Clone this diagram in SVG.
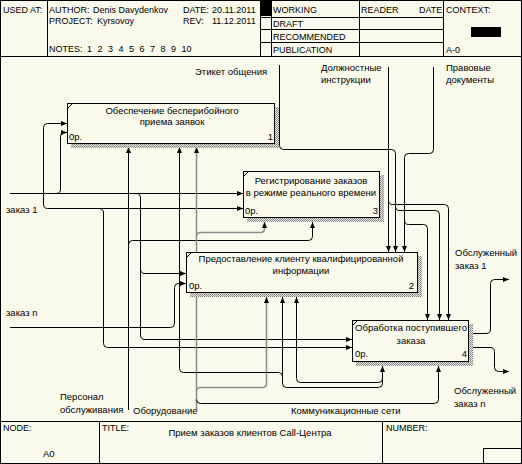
<svg xmlns="http://www.w3.org/2000/svg" width="522" height="464" viewBox="0 0 522 464">
<style>
text{font-family:"Liberation Sans",Arial,sans-serif;font-size:9.5px;fill:#000}
.h{font-size:9px}
.m{text-anchor:middle}
.e{text-anchor:end}
.fr{fill:none;stroke:#000;stroke-width:1}
.box{fill:#FAFAEC;stroke:#000;stroke-width:1}
.sh{fill:url(#hatch)}
.ln{fill:none;stroke:#000;stroke-width:1}
.lg{fill:none;stroke:#8c8c8c;stroke-width:1.5}
.ar{marker-end:url(#ah)}
</style>
<defs>
<pattern id="hatch" width="2" height="2" patternUnits="userSpaceOnUse">
<rect width="2" height="2" fill="#e8e8e0"/>
<rect width="1" height="1" fill="#7a7a7a"/>
<rect x="1" y="1" width="1" height="1" fill="#9a9a9a"/>
</pattern>
<marker id="ah" markerWidth="6" markerHeight="5" refX="6" refY="2.5" orient="auto" markerUnits="userSpaceOnUse">
<path d="M0,0 L6,2.5 L0,5 z" fill="#000"/>
</marker>
</defs>
<rect x="0.5" y="0.5" width="521" height="463" fill="#FAFAEC" stroke="#000"/>
<g id="header">
<path class="fr" d="M0,56.5 H522 M47.5,0 V56 M260.5,0 V56 M271.5,0 V56 M359.5,0 V56 M443.5,0 V56 M260,17.5 H443 M260,29.5 H443 M260,42.5 H443"/>
<rect x="261" y="1" width="10" height="15" fill="#000"/>
<rect x="471" y="27" width="30" height="10" fill="#000"/>
<text class="h" x="3" y="13">USED AT:</text>
<text class="h" x="49" y="13">AUTHOR:</text>
<text class="h" x="93" y="13">Denis Davydenkov</text>
<text class="h" x="183" y="13">DATE:</text>
<text class="h" x="212" y="13">20.11.2011</text>
<text class="h" x="49" y="24">PROJECT:</text>
<text class="h" x="97" y="24">Kyrsovoy</text>
<text class="h" x="183" y="24">REV:</text>
<text class="h" x="212" y="24">11.12.2011</text>
<text class="h" x="49" y="52">NOTES:</text>
<text class="h" x="87" y="52">1</text><text class="h" x="97.5" y="52">2</text><text class="h" x="108" y="52">3</text><text class="h" x="118.5" y="52">4</text><text class="h" x="129" y="52">5</text><text class="h" x="139.5" y="52">6</text><text class="h" x="150" y="52">7</text><text class="h" x="160.5" y="52">8</text><text class="h" x="171" y="52">9</text><text class="h" x="181.5" y="52">10</text>
<text class="h" x="273" y="13">WORKING</text>
<text class="h" x="273" y="27">DRAFT</text>
<text class="h" x="273" y="40">RECOMMENDED</text>
<text class="h" x="273" y="53">PUBLICATION</text>
<text class="h" x="361" y="13">READER</text>
<text class="h" x="419" y="13">DATE</text>
<text class="h" x="446" y="13">CONTEXT:</text>
<text class="h" x="446" y="53">A-0</text>
</g>
<g id="footer">
<path class="fr" d="M0,421.5 H522 M99.5,421 V464 M382.5,421 V464 M483.5,448 V464 M483,448.5 H522"/>
<text class="h" x="3" y="431">NODE:</text>
<text x="43" y="457">A0</text>
<text class="h" x="102" y="431">TITLE:</text>
<text x="250" y="436" class="m">Прием заказов клиентов Call-Центра</text>
<text class="h" x="386" y="431">NUMBER:</text>
</g>
<g id="connectors">
<path class="ln ar" d="M279.5,65 V145.5 Q279.5,149.5 283.5,149.5 H391.5 Q395.5,149.5 395.5,153.5 V252"/>
<path class="ln ar" d="M395.5,206 Q395.5,210.5 399.5,210.5 H435.5 Q439.5,210.5 439.5,214.5 V320"/>
<path class="ln ar" d="M388.5,67 V252"/>
<path class="ln ar" d="M388.5,200 Q388.5,204.5 392.5,204.5 H444.5 Q448.5,204.5 448.5,208.5 V320"/>
<path class="ln ar" d="M433.5,67 V149.5 Q433.5,153.5 429.5,153.5 H408.5 Q404.5,153.5 404.5,157.5 V252"/>
<path class="ln ar" d="M404.5,220 Q404.5,224.5 408.5,224.5 H423.5 Q427.5,224.5 427.5,228.5 V320"/>
<path class="ln ar" d="M469,333.5 H486 Q490.5,333.5 490.5,329 V283.5 Q490.5,279.5 494.5,279.5 H509"/>
<path class="ln ar" d="M469,347.5 H490 Q494.5,347.5 494.5,351.5 V367.5 Q494.5,371.5 498.5,371.5 H509"/>
<path class="ln ar" d="M10,193.5 H243"/>
<path class="ln ar" d="M56,193.5 Q60.5,193.5 60.5,189 V136.5 Q60.5,132.5 64,132.5 H67"/>
<path class="ln ar" d="M136,193.5 Q140.5,193.5 140.5,198 V269 Q140.5,273.5 145,273.5 H186"/>
<path class="ln ar" d="M140.5,269 V335 Q140.5,339.5 145,339.5 H352"/>
<path class="ln ar" d="M43.5,204 V127.5 Q43.5,123.5 47.5,123.5 H67"/>
<path class="ln ar" d="M43.5,204 Q43.5,208.5 47.5,208.5 H243"/>
<path class="ln ar" d="M99,208.5 Q103.5,208.5 103.5,213 V343.5 Q103.5,347.5 107.5,347.5 H352"/>
<path class="ln ar" d="M10,327.5 H170.5 Q174.5,327.5 174.5,323.5 V287.5 Q174.5,283.5 178.5,283.5 H186"/>
<path class="ln ar" d="M128.5,410 V147"/>
<path class="ln ar" d="M128.5,244.5 Q128.5,240.5 132.5,240.5 H308.5 Q312.5,240.5 312.5,236.5 V222"/>
<path class="lg ar" d="M196.5,410 V147"/>
<path class="lg ar" d="M196.5,236.5 Q196.5,232.5 200.5,232.5 H260.5 Q264.5,232.5 264.5,228.5 V222"/>
<path class="lg ar" d="M196.5,391.5 Q196.5,387.5 200.5,387.5 H262.5 Q266.5,387.5 266.5,383.5 V297"/>
<path class="ln ar" d="M196.5,399.5 Q196.5,403.5 200.5,403.5 H434.5 Q438.5,403.5 438.5,399.5 V366"/>
<path class="ln ar" d="M282.5,376.5 Q282.5,372.5 278.5,372.5 H183.5 Q179.5,372.5 179.5,368.5 V147"/>
<path class="ln ar" d="M282.5,383.5 V297"/>
<path class="ln ar" d="M282.5,376.5 V383.5 Q282.5,387.5 286.5,387.5 H378.5 Q382.5,387.5 382.5,383.5 V366"/>
<path class="ln ar" d="M296.5,378.5 V297"/>
<path class="ln" d="M296.5,378.5 Q296.5,382.5 300.5,382.5 H378.5 Q382.5,382.5 382.5,378.5"/>
</g>
<g id="box1">
<rect class="sh" x="275" y="107" width="4" height="41"/>
<rect class="sh" x="71" y="144" width="204" height="4"/>
<rect class="box" x="67.5" y="103.5" width="207" height="40"/>
<path class="ln" d="M68,108 L72,104"/>
<text class="m" x="172" y="114">Обеспечение бесперибойного</text>
<text class="m" x="172" y="125">приема заявок</text>
<text x="69" y="140">0р.</text>
<text class="e" x="273" y="140">1</text>
</g>
<g id="box3">
<rect class="sh" x="380" y="175" width="4" height="47"/>
<rect class="sh" x="247" y="218" width="133" height="4"/>
<rect class="box" x="243.5" y="171.5" width="136" height="46"/>
<path class="ln" d="M244,176 L248,172"/>
<text class="m" x="311" y="184">Регистрирование заказов</text>
<text class="m" x="311" y="196">в режиме реального времени</text>
<text x="245" y="214">0р.</text>
<text class="e" x="378" y="214">3</text>
</g>
<g id="box2">
<rect class="sh" x="418" y="256" width="4" height="41"/>
<rect class="sh" x="190" y="293" width="228" height="4"/>
<rect class="box" x="186.5" y="252.5" width="231" height="40"/>
<path class="ln" d="M187,257 L191,253"/>
<text class="m" x="301" y="262">Предоставление клиенту квалифицированной</text>
<text class="m" x="301" y="274">информации</text>
<text x="189" y="289">0р.</text>
<text class="e" x="414" y="289">2</text>
</g>
<g id="box4">
<rect class="sh" x="469" y="324" width="4" height="42"/>
<rect class="sh" x="356" y="362" width="113" height="4"/>
<rect class="box" x="352.5" y="320.5" width="116" height="41"/>
<path class="ln" d="M353,325 L357,321"/>
<text class="m" x="411" y="331">Обработка поступившего</text>
<text class="m" x="411" y="344">заказа</text>
<text x="355" y="357">0р.</text>
<text class="e" x="467" y="357">4</text>
</g>
<g id="labels">
<text x="195" y="75">Этикет  общения</text>
<text x="321" y="71">Должностные</text>
<text x="321" y="83">инструкции</text>
<text x="446" y="71">Правовые</text>
<text x="446" y="83">документы</text>
<text x="455" y="256">Обслуженный</text>
<text x="455" y="269">заказ 1</text>
<text x="454" y="394">Обслуженный</text>
<text x="454" y="407">заказ n</text>
<text x="6" y="213">заказ 1</text>
<text x="6" y="316">заказ n</text>
<text x="60" y="400">Персонал</text>
<text x="60" y="413">обслуживания</text>
<text x="133" y="414">Оборудование</text>
<text x="291" y="414">Коммуникационные сети</text>
</g>
</svg>
